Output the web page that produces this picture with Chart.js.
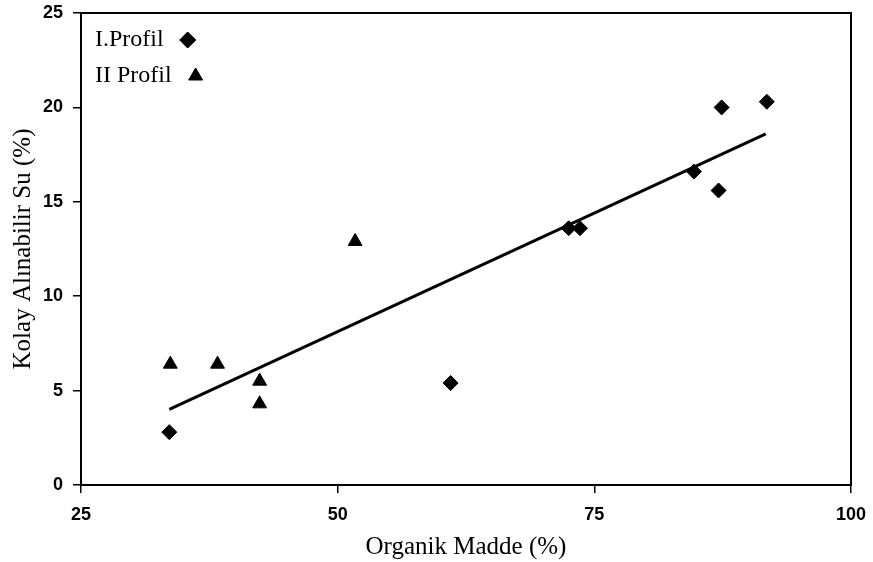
<!DOCTYPE html>
<html>
<head>
<meta charset="utf-8">
<script src="https://cdn.jsdelivr.net/npm/chart.js@4/dist/chart.umd.min.js"></script>
<style>
  html, body { margin: 0; padding: 0; background: #fff; }
  #wrap { width: 873px; height: 562px; }
</style>
</head>
<body>
<div id="wrap"><canvas id="chart"></canvas></div>
<script>
// values
const profil1X = [33.6, 61.0, 72.5, 73.6, 84.7, 87.1, 87.4, 91.8];
const profil1Y = [2.8, 5.4, 13.6, 13.6, 16.6, 15.6, 20.0, 20.3];
const profil2X = [33.7, 38.3, 42.4, 42.4, 51.7];
const profil2Y = [6.4, 6.4, 5.5, 4.3, 12.9];
const trendX = [33.6, 91.7];
const trendY = [4.0, 18.6];
const xTicks = [25, 50, 75, 100];
const yTicks = [0, 5, 10, 15, 20, 25];
const legendLabels = ['I.Profil', 'II Profil'];

const toPoints = (xs, ys) => xs.map((x, i) => ({x, y: ys[i]}));

const serif = "'Liberation Serif', 'Times New Roman', serif";
const sans = "'Liberation Sans', Arial, sans-serif";

// frame around the plot area
const framePlugin = {
  id: 'frame',
  afterDraw(chart) {
    const {ctx, chartArea: a} = chart;
    ctx.save();
    ctx.strokeStyle = '#000';
    ctx.lineWidth = 2;
    ctx.strokeRect(a.left, a.top, a.right - a.left, a.bottom - a.top);
    ctx.restore();
  }
};

// legend inside the plot: text first, marker after it
const insideLegend = {
  id: 'insideLegend',
  afterDraw(chart) {
    const {ctx, chartArea: a} = chart;
    ctx.save();
    ctx.font = '24px ' + serif;
    ctx.fillStyle = '#000';
    ctx.textBaseline = 'middle';
    ctx.textAlign = 'left';
    const x = a.left + 14;
    const rows = [a.top + 27, a.top + 63];
    legendLabels.forEach((txt, i) => {
      ctx.fillText(txt, x, rows[i]);
      const w = ctx.measureText(txt).width;
      const ds = chart.data.datasets[i];
      Chart.helpers.drawPoint(ctx, {pointStyle: ds.pointStyle, radius: 8, rotation: 0, borderWidth: 1},
        x + w + 24, rows[i]);
      ctx.fill();
    });
    ctx.restore();
  }
};

new Chart(document.getElementById('chart'), {
  type: 'scatter',
  data: {
    datasets: [
      {
        label: legendLabels[0],
        data: toPoints(profil1X, profil1Y),
        pointStyle: 'rectRot',
        pointRadius: 7.5,
        backgroundColor: '#000',
        borderColor: '#000'
      },
      {
        label: legendLabels[1],
        data: toPoints(profil2X, profil2Y),
        pointStyle: 'triangle',
        pointRadius: 8,
        backgroundColor: '#000',
        borderColor: '#000'
      },
      {
        label: 'trend',
        data: toPoints(trendX, trendY),
        showLine: true,
        pointRadius: 0,
        borderColor: '#000',
        borderWidth: 3
      }
    ]
  },
  options: {
    responsive: true,
    maintainAspectRatio: false,
    animation: false,
    layout: {padding: {top: 13, right: 22, left: 0, bottom: 0}},
    plugins: {
      legend: {display: false},
      tooltip: {enabled: false}
    },
    scales: {
      x: {
        type: 'linear',
        min: 25,
        max: 100,
        afterBuildTicks: s => { s.ticks = xTicks.map(v => ({value: v})); },
        afterFit: s => { s.height = 77; s.paddingLeft = 0; s.paddingRight = 0; },
        grid: {display: true, drawOnChartArea: false, color: '#000', tickLength: 8, lineWidth: 1.5},
        border: {display: true, color: '#000', width: 2},
        ticks: {color: '#000', font: {family: sans, size: 18, weight: 'bold'}, padding: 11, maxRotation: 0},
        title: {display: true, text: 'Organik Madde (%)', color: '#000',
          font: {family: serif, size: 25}, padding: {top: 0, bottom: 0}}
      },
      y: {
        type: 'linear',
        min: 0,
        max: 25,
        afterBuildTicks: s => { s.ticks = yTicks.map(v => ({value: v})); },
        afterFit: s => { s.width = 81; s.paddingTop = 0; s.paddingBottom = 0; },
        grid: {display: true, drawOnChartArea: false, color: '#000', tickLength: 8, lineWidth: 1.5},
        border: {display: true, color: '#000', width: 2},
        ticks: {color: '#000', font: {family: sans, size: 18, weight: 'bold'}, padding: 10},
        title: {display: true, text: 'Kolay Alınabilir Su (%)', color: '#000',
          font: {family: serif, size: 25}, padding: {top: 8, bottom: 0}}
      }
    }
  },
  plugins: [framePlugin, insideLegend]
});
</script>
</body>
</html>
